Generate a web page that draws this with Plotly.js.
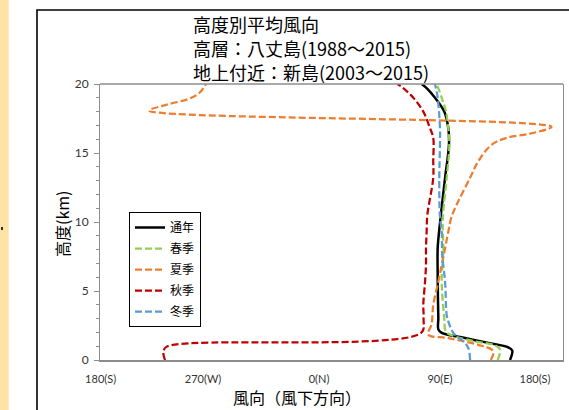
<!DOCTYPE html>
<html>
<head>
<meta charset="utf-8">
<script src="https://cdn.plot.ly/plotly-3.0.1.min.js"></script>
<style>
  html, body { margin: 0; padding: 0; background: #fff; }
  #chart { width: 569px; height: 410px; }
</style>
</head>
<body>
<div id="chart"></div>
<script>
// Series names (legend order)
const seriesNames = ['通年', '春季', '夏季', '秋季', '冬季'];

// Wind direction (downwind, degrees, unwrapped: 0=N, 90=E, -90=W) vs height (km)
const annualHeight = [0, 0.68, 0.92, 1.24, 1.59, 1.96, 2.22, 3.04, 4.5, 6.3, 8.1, 9.9, 11.5, 13.2, 15.6, 16.8, 18.0, 19.0, 19.7, 20];
const annualDir    = [142.1, 143.8, 140.8, 126.0, 108.6, 91.3, 88.8, 88.8, 88.5, 88.3, 88.3, 90.0, 91.8, 93.8, 96.7, 96.2, 93.2, 86.3, 80.1, 76.4];

const springHeight = [0, 0.75, 1.06, 1.35, 1.79, 2.08, 3.04, 5.67, 8.1, 9.9, 10.8, 13.2, 15.6, 16.8, 18.0, 19.0, 20];
const springDir    = [133.0, 134.7, 131.0, 116.1, 98.7, 94.3, 93.2, 91.3, 92.5, 92.0, 92.5, 95.0, 97.0, 96.2, 94.5, 91.3, 87.6];

const summerHeight = [0, 0.5, 0.75, 1.1, 1.59, 1.84, 2.6, 3.99, 5.67, 6.88, 8.1, 9.3, 10.4, 11.5, 13.2, 14.4, 15.6, 16.1, 16.4, 16.9, 18.07, 18.5, 18.96, 19.4, 20];
const summerDir    = [127.9, 129.7, 128.5, 118.5, 96.2, 81.3, 83.8, 85.0, 88.8, 91.3, 93.8, 96.2, 98.7, 103.6, 112.4, 118.5, 128.5, 139.7, 157.0, 173.1, -126.3, -113.3, -96.0, -88.5, -84.1];

const autumnHeight = [0, 0.6, 0.97, 1.96, 3.0, 4.0, 5.67, 6.88, 8.1, 9.3, 10.5, 13.2, 14.4, 16.1, 16.8, 18.0, 19.0, 19.7, 20];
const autumnDir    = [-114.6, -115.8, -113.3, 76.0, 77.8, 77.6, 78.9, 79.6, 79.6, 80.1, 80.6, 85.0, 85.0, 85.0, 82.6, 77.6, 70.2, 62.7, 58.4];

const winterHeight = [0, 0.87, 1.35, 1.96, 2.8, 3.26, 5.67, 7.6, 9.3, 10.4, 13.2, 15.6, 16.8, 19.0, 20];
const winterDir    = [112.4, 111.1, 107.4, 99.9, 96.2, 95.0, 93.8, 91.7, 91.3, 90.0, 89.5, 90.0, 90.0, 88.3, 86.3];

// Axis tick labels
const xTickVals  = [-162.5, -86.3, 0, 90, 160.7];
const xTickText  = ['180(S)', '270(W)', '0(N)', '90(E)', '180(S)'];
const yTickVals  = [0, 5, 10, 15, 20];

const titleLines = ['高度別平均風向', '高層：八丈島(1988～2015)', '地上付近：新島(2003～2015)'];
const xTitle = '風向（風下方向）';
const yTitle = '高度(km)';

const colors = ['#000000', '#92D050', '#ED7D31', '#C00000', '#5B9BD5'];
const dashes = ['solid', '7px,3px', '7px,3px', '7px,3px', '7px,3px'];
const widths = [2.5, 2.25, 2.25, 2.25, 2.25];

const xs = [annualDir, springDir, summerDir, autumnDir, winterDir];
const ys = [annualHeight, springHeight, summerHeight, autumnHeight, winterHeight];

const cjk = '"Noto Sans CJK JP", sans-serif';
const latin = 'Lato, "Noto Sans", sans-serif';

const traces = seriesNames.map((name, i) => ({
  type: 'scatter',
  mode: 'lines',
  name: name,
  legendgroup: 'g' + i,
  x: xs[i],
  y: ys[i],
  line: { color: colors[i], width: widths[i], dash: dashes[i], shape: 'spline', smoothing: 1 },
  hoverinfo: 'skip'
}));

// plot area: x 100..563, y 84..360
const W = 463, H = 276, L = 100, T = 84;
const px = x => (x - L) / W;
const py = y => (T + H - y) / H;

const annotations = titleLines.map((t, i) => ({
  text: t, xref: 'paper', yref: 'paper',
  x: px(191), y: py([23.5, 48, 72.5][i]),
  xanchor: 'left', yanchor: 'middle', showarrow: false,
  font: { family: cjk, size: 18, color: '#000' }
}));
annotations.push({
  text: xTitle, xref: 'paper', yref: 'paper', x: px(297), y: py(410),
  xanchor: 'center', yanchor: 'bottom', showarrow: false, borderpad: 0,
  font: { family: cjk, size: 16, color: '#000' }
});
annotations.push({
  text: yTitle, xref: 'paper', yref: 'paper', x: px(62), y: py(224),
  xanchor: 'center', yanchor: 'middle', showarrow: false, textangle: -90,
  font: { family: cjk, size: 16, color: '#000' }
});

const layout = {
  width: 569, height: 410,
  margin: { l: 100, r: 6, t: 84, b: 50, pad: 0 },
  paper_bgcolor: '#ffffff',
  plot_bgcolor: '#ffffff',
  showlegend: true,
  legend: {
    x: px(129), y: py(212), xanchor: 'left', yanchor: 'top',
    bgcolor: '#ffffff', bordercolor: '#000000', borderwidth: 1,
    font: { family: cjk, size: 12, color: '#000' },
    traceorder: 'grouped', tracegroupgap: 2
  },
  xaxis: {
    range: [(100 - 319) / 1.344, (563 - 319) / 1.344],
    tickmode: 'array', tickvals: xTickVals, ticktext: xTickText,
    ticks: '', showgrid: false, zeroline: false,
    showline: true, linecolor: '#8C8C8C', linewidth: 2,
    tickfont: { family: latin, size: 11, color: '#333' },
    ticklabelstandoff: 8
  },
  yaxis: {
    range: [0, 20],
    tickmode: 'array', tickvals: yTickVals,
    ticks: 'outside', ticklen: 5, tickcolor: '#8C8C8C', tickwidth: 1,
    minor: { dtick: 1, ticks: 'outside', ticklen: 3, tickcolor: '#8C8C8C', tickwidth: 1 },
    showgrid: false, zeroline: false,
    showline: true, mirror: true, linecolor: '#8C8C8C', linewidth: 1,
    tickfont: { family: latin, size: 12, color: '#333' },
    ticklabelstandoff: 3
  },
  annotations: annotations,
  shapes: [
    { type: 'rect', xref: 'paper', yref: 'paper', layer: 'below',
      x0: px(0), x1: px(8.7), y0: py(420), y1: py(-10),
      fillcolor: '#FFE3A6', line: { width: 0 } },
    { type: 'rect', xref: 'paper', yref: 'paper', layer: 'above',
      x0: px(1), x1: px(3), y0: py(230), y1: py(227),
      fillcolor: '#333333', line: { width: 0 } },
    { type: 'rect', xref: 'paper', yref: 'paper', layer: 'above',
      x0: px(37), x1: px(640), y0: py(450), y1: py(10),
      fillcolor: 'rgba(0,0,0,0)', line: { color: '#000000', width: 1.6 } },
    { type: 'line', xref: 'paper', yref: 'paper', layer: 'above',
      x0: 0, x1: 1, y0: 1, y1: 1,
      line: { color: '#8C8C8C', width: 1.5 } }
  ]
};

Plotly.newPlot('chart', traces, layout, { staticPlot: true, displayModeBar: false });
</script>
</body>
</html>
